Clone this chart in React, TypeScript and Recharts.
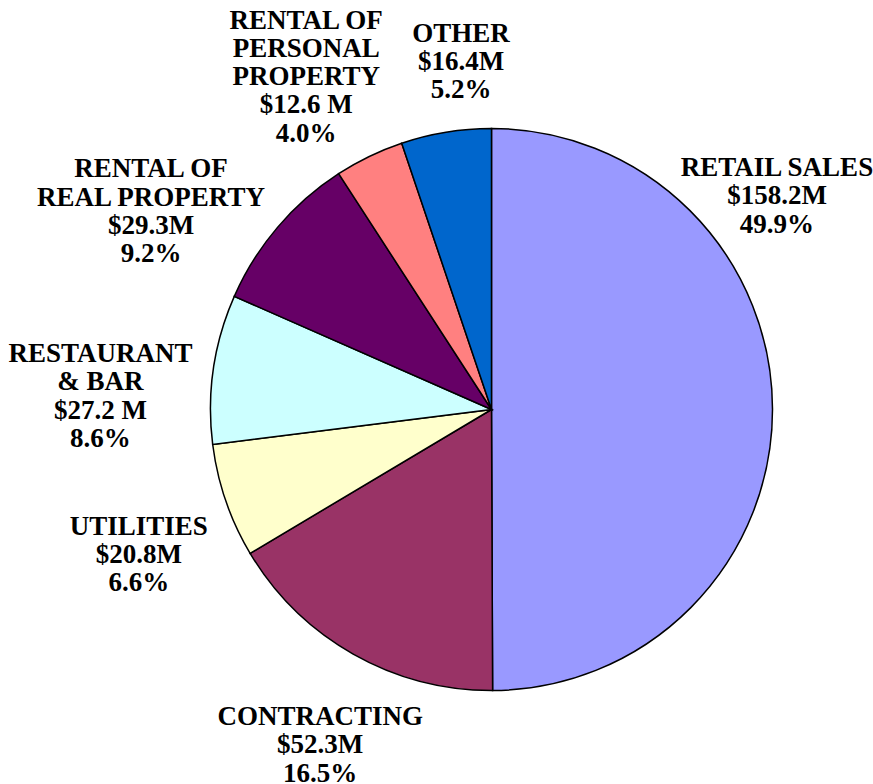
import { PieChart, Pie, Cell } from 'recharts';

const categories = ['RETAIL SALES', 'CONTRACTING', 'UTILITIES', 'RESTAURANT & BAR', 'RENTAL OF REAL PROPERTY', 'RENTAL OF PERSONAL PROPERTY', 'OTHER'];
const values = [158.2, 52.3, 20.8, 27.2, 29.3, 12.6, 16.4];
const nameLines = [
  ['RETAIL SALES'],
  ['CONTRACTING'],
  ['UTILITIES'],
  ['RESTAURANT', '& BAR'],
  ['RENTAL OF', 'REAL PROPERTY'],
  ['RENTAL OF', 'PERSONAL', 'PROPERTY'],
  ['OTHER'],
];
const valueLabels = ['$158.2M', '$52.3M', '$20.8M', '$27.2 M', '$29.3M', '$12.6 M', '$16.4M'];
const colors = ['#9999FF', '#993366', '#FFFFCC', '#CCFFFF', '#660066', '#FF8080', '#0066CC'];

// label nudges from the slice's outer edge point
const labelOffsets = [
  [4.5, -233],
  [-33, 71],
  [-87, 34],
  [-113, -7],
  [-126.5, -50],
  [-63, -128],
  [15, -90.5],
];

const data = categories.map((name, i) => ({ name, value: values[i] }));

const RAD = Math.PI / 180;
const LINE_H = 28.3;
const FONT = '"Liberation Serif", "Times New Roman", Times, serif';

const renderLabel = (props: any) => {
  const { cx, cy, midAngle, outerRadius, percent, index } = props;
  const x = cx + outerRadius * Math.cos(-midAngle * RAD) + labelOffsets[index][0];
  const y = cy + outerRadius * Math.sin(-midAngle * RAD) + labelOffsets[index][1];
  const lines = [...nameLines[index], valueLabels[index], `${(percent * 100).toFixed(1)}%`];
  return (
    <text
      key={`label-${index}`}
      x={x}
      y={y}
      textAnchor="middle"
      fill="#000"
      fontFamily={FONT}
      fontWeight="bold"
      fontSize={27}
    >
      {lines.map((l, i) => (
        <tspan key={i} x={x} y={y + i * LINE_H}>
          {l}
        </tspan>
      ))}
    </text>
  );
};

export default function App() {
  return (
    <div style={{ position: 'absolute', left: 0, top: 0, background: '#fff' }}>
      <PieChart width={873} height={784} margin={{ top: 0, right: 0, bottom: 0, left: 0 }}>
        <Pie
          data={data}
          dataKey="value"
          cx={491.5}
          cy={409.5}
          outerRadius={281}
          startAngle={90}
          endAngle={-270}
          stroke="#000"
          strokeWidth={1.5}
          label={renderLabel}
          labelLine={false}
          isAnimationActive={false}
        >
          {data.map((entry, index) => (
            <Cell key={`cell-${index}`} fill={colors[index]} />
          ))}
        </Pie>
      </PieChart>
    </div>
  );
}
